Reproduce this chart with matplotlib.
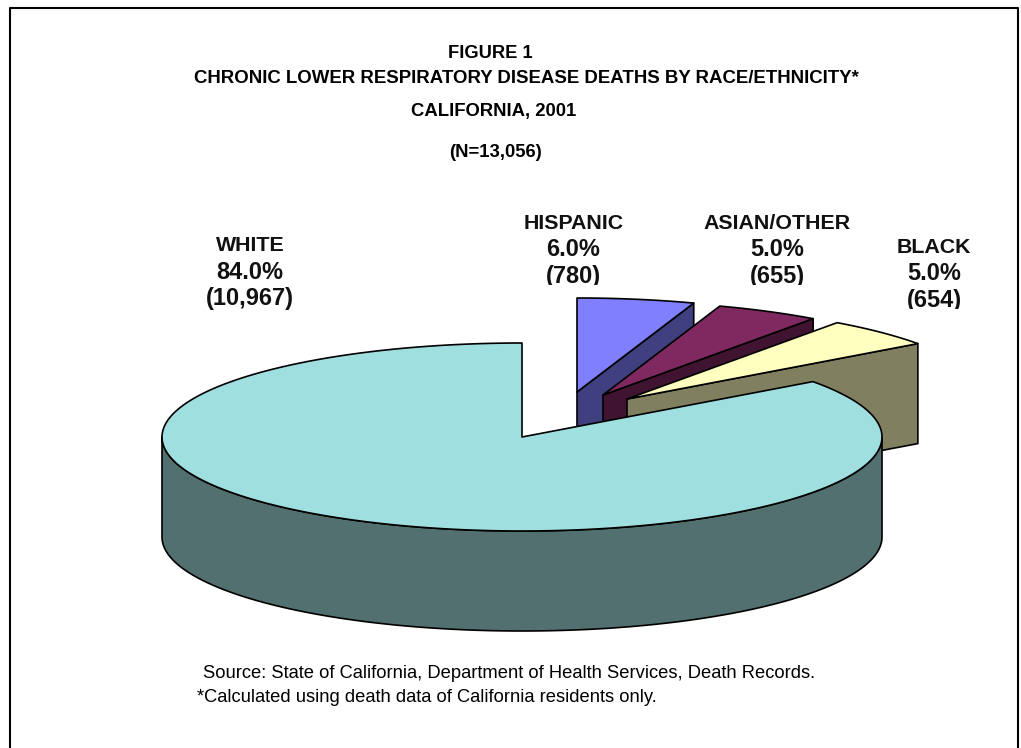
#!/usr/bin/env python3
"""Exploded 3D pie of chronic lower respiratory disease deaths by race/ethnicity."""

import numpy as np
import matplotlib
matplotlib.use("Agg")
import matplotlib.pyplot as plt
from matplotlib.patches import Polygon
from matplotlib.transforms import Bbox, TransformedBbox

plt.rcParams["font.family"] = ["Liberation Sans", "DejaVu Sans"]

# Clockwise from twelve o'clock
groups = ["HISPANIC", "ASIAN/OTHER", "BLACK", "WHITE"]
deaths = [780, 655, 654, 10967]
percents = [6.0, 5.0, 5.0, 84.0]

top_colors = ["#8080FF", "#802860", "#FFFFC0", "#A0DFE0"]
side_colors = ["#404080", "#401430", "#808060", "#52706F"]

# Pie geometry, in pixels
CX, CY = 522, 437
RX, RY = 360, 94
DEPTH = 100
TILT = 0.87  # squeezes angles towards the vertical, like the tilted 3D view
OFFSETS = [(55, -45), (81, -42), (105, -38), (0, 0)]

# label centre x, first line y, y where the label gets cut off
LABEL_POS = [(573.5, 223, 285), (777.5, 223, 285), (934, 247, 309), (250, 245.5, 340)]
LINE_SIZES = [15.4, 17, 17]


def view_angle(phi):
    return np.arctan2(TILT * np.sin(phi), np.cos(phi))


def rim(phi, cx, cy):
    """Points on the top ellipse for angles measured clockwise from the top."""
    a = np.unwrap(view_angle(phi))
    return np.column_stack([cx + RX * np.sin(a), cy - RY * np.cos(a)])


fig = plt.figure(figsize=(10.21, 7.48), dpi=100)
ax = fig.add_axes([0, 0, 1, 1])
ax.set_xlim(0, 1021)
ax.set_ylim(748, 0)
ax.axis("off")

# outer frame
ax.plot([10, 10, 1018, 1018], [760, 7.5, 7.5, 760], color="black", lw=1.5)

edges = np.cumsum([0] + deaths) / sum(deaths) * 2 * np.pi
style = dict(edgecolor="black", lw=1.2, joinstyle="round")

for i in range(4):
    dx, dy = OFFSETS[i]
    cx, cy = CX + dx, CY + dy
    arc = rim(np.linspace(edges[i], edges[i + 1], 300), cx, cy)

    if groups[i] == "WHITE":
        # only the front of the rim shows
        front = rim(np.linspace(np.pi / 2, 3 * np.pi / 2, 200), cx, cy)
        side = np.vstack([front, (front + [0, DEPTH])[::-1]])
    else:
        # cut face running from the tip to the far end of the slice
        far = arc[-1]
        side = np.array([[cx, cy], far, far + [0, DEPTH], [cx, cy + DEPTH]])
    ax.add_patch(Polygon(side, facecolor=side_colors[i], **style))
    ax.add_patch(Polygon(np.vstack([[cx, cy], arc]), facecolor=top_colors[i], **style))

# category labels
for name, pct, n, (x, y, cut) in zip(groups, percents, deaths, LABEL_POS):
    lines = [name, f"{pct:.1f}%", f"({n:,})"]
    for k, line in enumerate(lines):
        t = ax.text(x, y + k * 26.7, line, ha="center", va="center",
                    fontsize=LINE_SIZES[k], fontweight="bold", color="#111111")
        t.set_clip_box(TransformedBbox(Bbox([[0, 100], [1021, cut]]), ax.transData))
        t.set_clip_on(True)

# titles
ax.text(490.5, 53, "FIGURE 1", ha="center", va="center", fontsize=13.2, fontweight="bold")
ax.text(526, 78, "CHRONIC LOWER RESPIRATORY DISEASE DEATHS BY RACE/ETHNICITY*",
        ha="center", va="center", fontsize=13.4, fontweight="bold")
ax.text(494, 111, "CALIFORNIA, 2001", ha="center", va="center", fontsize=13.3, fontweight="bold")
ax.text(495, 152, "(N=13,056)", ha="center", va="center", fontsize=13.3, fontweight="bold")

# notes
ax.text(203, 673, "Source: State of California, Department of Health Services, Death Records.",
        ha="left", va="center", fontsize=13.25)
ax.text(197, 697, "*Calculated using death data of California residents only.",
        ha="left", va="center", fontsize=13.25)

fig.savefig("out.png", dpi=100)
